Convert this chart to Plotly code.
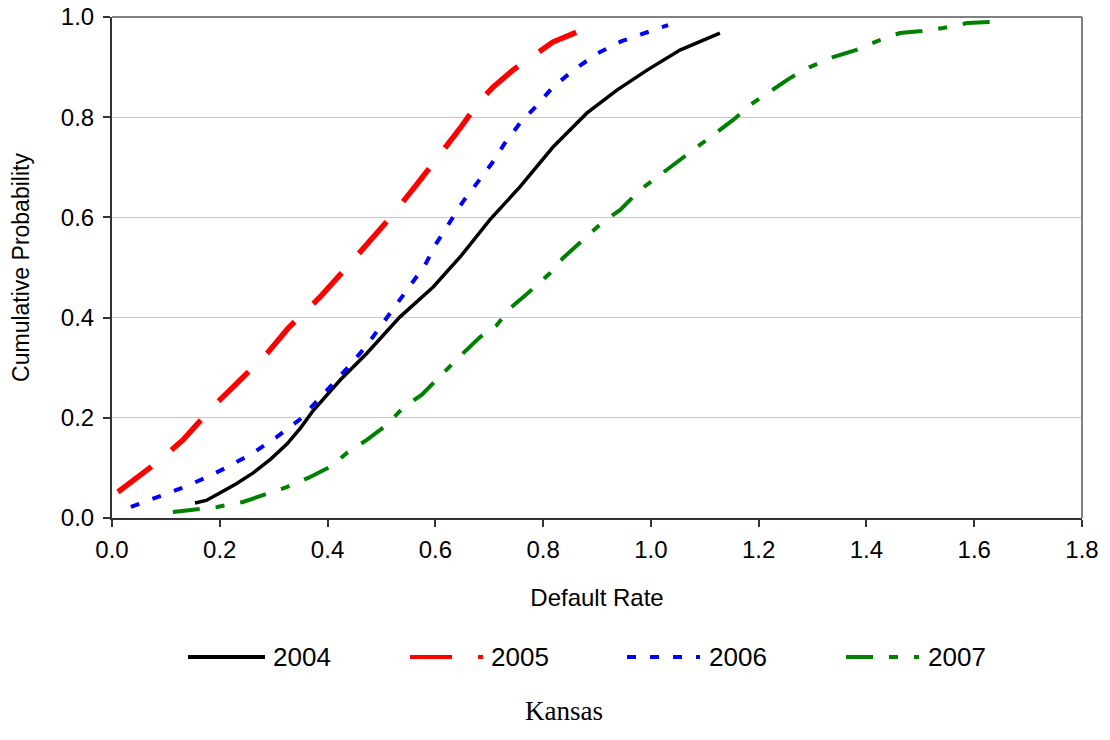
import plotly.graph_objects as go

# ---- data ----
x2004 = [0.154, 0.175, 0.200, 0.230, 0.262, 0.295, 0.325, 0.350, 0.373, 0.423, 0.473, 0.534,
         0.596, 0.646, 0.701, 0.757, 0.818, 0.881, 0.937, 0.993, 1.054, 1.128]
y2004 = [0.030, 0.035, 0.050, 0.068, 0.090, 0.118, 0.148, 0.180, 0.214, 0.275, 0.329, 0.401,
         0.461, 0.521, 0.595, 0.661, 0.740, 0.808, 0.854, 0.894, 0.934, 0.968]

x2005 = [0.011, 0.085, 0.132, 0.187, 0.228, 0.288, 0.327, 0.386, 0.436, 0.479, 0.516, 0.568,
         0.599, 0.646, 0.679, 0.707, 0.744, 0.790, 0.818, 0.863]
y2005 = [0.052, 0.112, 0.156, 0.222, 0.265, 0.329, 0.379, 0.441, 0.501, 0.555, 0.599, 0.669,
         0.711, 0.778, 0.828, 0.860, 0.894, 0.928, 0.950, 0.970]

x2006 = [0.035, 0.085, 0.130, 0.173, 0.215, 0.262, 0.306, 0.349, 0.382, 0.414, 0.445, 0.473,
         0.503, 0.529, 0.553, 0.581, 0.600, 0.651, 0.679, 0.705, 0.729, 0.757, 0.789, 0.818,
         0.859, 0.902, 0.946, 0.993, 1.032]
y2006 = [0.022, 0.042, 0.060, 0.080, 0.102, 0.130, 0.162, 0.197, 0.236, 0.272, 0.309, 0.345,
         0.389, 0.429, 0.461, 0.505, 0.545, 0.631, 0.671, 0.708, 0.748, 0.788, 0.824, 0.860,
         0.896, 0.928, 0.952, 0.970, 0.984]

x2007 = [0.113, 0.158, 0.195, 0.243, 0.284, 0.325, 0.364, 0.405, 0.436, 0.473, 0.510, 0.540,
         0.575, 0.614, 0.642, 0.683, 0.714, 0.739, 0.772, 0.813, 0.837, 0.911, 0.943, 0.980,
         1.017, 1.048, 1.086, 1.123, 1.152, 1.189, 1.225, 1.258, 1.295, 1.338, 1.380, 1.420,
         1.462, 1.503, 1.542, 1.587, 1.629]
y2007 = [0.012, 0.018, 0.022, 0.032, 0.046, 0.062, 0.080, 0.102, 0.130, 0.156, 0.186, 0.220,
         0.246, 0.289, 0.319, 0.361, 0.385, 0.419, 0.449, 0.489, 0.519, 0.591, 0.615, 0.655,
         0.685, 0.711, 0.741, 0.770, 0.794, 0.828, 0.854, 0.878, 0.900, 0.920, 0.934, 0.952,
         0.968, 0.972, 0.978, 0.988, 0.990]

series_names = ["2004", "2005", "2006", "2007"]
series_x = [x2004, x2005, x2006, x2007]
series_y = [y2004, y2005, y2006, y2007]
colors = ["#000000", "#ff0000", "#0000ff", "#008000"]
widths = [3.5, 5.5, 4, 4]
dashes = ["solid", "42px,26px", "9px,14px", "27px,16px,9px,16px"]

x_ticks = [0.0, 0.2, 0.4, 0.6, 0.8, 1.0, 1.2, 1.4, 1.6, 1.8]
y_ticks = [0.0, 0.2, 0.4, 0.6, 0.8, 1.0]

FONT = "Liberation Sans, Arial, sans-serif"

fig = go.Figure()
for name, xs, ys, c, w, d in zip(series_names, series_x, series_y, colors, widths, dashes):
    fig.add_trace(go.Scatter(x=xs, y=ys, mode="lines", name=name,
                             line=dict(color=c, width=w, dash=d), showlegend=False))

# plot frame geometry (pixels)
L, R, T, B = 112, 28, 17, 222
W, H = 1110, 740
pw, ph = W - L - R, H - T - B

def px_to_paper_x(px):
    return (px - L) / pw

def px_to_paper_y(py):
    return (H - B - py) / ph

shapes = [
    # gray top and right borders
    dict(type="line", xref="paper", yref="paper", x0=0, x1=1, y0=1, y1=1,
         line=dict(color="#808080", width=2)),
    dict(type="line", xref="paper", yref="paper", x0=1, x1=1, y0=0, y1=1,
         line=dict(color="#808080", width=2)),
]

annotations = []
# custom legend (line samples + labels)
leg_y = px_to_paper_y(657)
leg_items = [(188, 265, 271), (410, 483, 489), (627, 700, 707), (846, 919, 926)]
for (x0, x1, tx), name, c, w, d in zip(leg_items, series_names, colors, widths, dashes):
    shapes.append(dict(type="line", xref="paper", yref="paper",
                       x0=px_to_paper_x(x0), x1=px_to_paper_x(x1), y0=leg_y, y1=leg_y,
                       line=dict(color=c, width=4, dash=d)))
    annotations.append(dict(xref="paper", yref="paper", x=px_to_paper_x(tx), y=leg_y,
                            text=name, showarrow=False, xanchor="left", yanchor="middle",
                            font=dict(family=FONT, size=26, color="#000000")))

annotations.append(dict(xref="paper", yref="paper", x=px_to_paper_x(564), y=px_to_paper_y(711),
                        text="Kansas", showarrow=False, xanchor="center", yanchor="middle",
                        font=dict(family="Liberation Serif, Times New Roman, serif", size=27,
                                  color="#000000")))

fig.update_layout(
    width=W, height=H,
    margin=dict(l=L, r=R, t=T, b=B, pad=0, autoexpand=False),
    paper_bgcolor="white", plot_bgcolor="white",
    font=dict(family=FONT, size=24, color="#000000"),
    shapes=shapes, annotations=annotations,
    showlegend=False,
)
fig.update_xaxes(range=[0, 1.8], tickvals=x_ticks, ticktext=[f"{v:.1f}" for v in x_ticks],
                 showgrid=False, zeroline=False, showline=True, linecolor="#333333",
                 linewidth=2, ticks="outside", ticklen=7, tickcolor="#333333", tickwidth=1.5,
                 tickfont=dict(size=24), ticklabelstandoff=2, automargin=False,
                 title=dict(text="Default Rate", font=dict(size=24), standoff=27))
fig.update_yaxes(range=[0, 1.0], tickvals=y_ticks, ticktext=[f"{v:.1f}" for v in y_ticks],
                 showgrid=True, gridcolor="#c8c8c8", gridwidth=1, zeroline=False,
                 showline=True, linecolor="#333333", linewidth=2, ticks="outside", ticklen=7,
                 tickcolor="#333333", tickwidth=1.5, tickfont=dict(size=24),
                 ticklabelstandoff=4, automargin=False,
                 title=dict(text="Cumulative Probability", font=dict(size=23), standoff=25))

fig.write_html("out.html")
